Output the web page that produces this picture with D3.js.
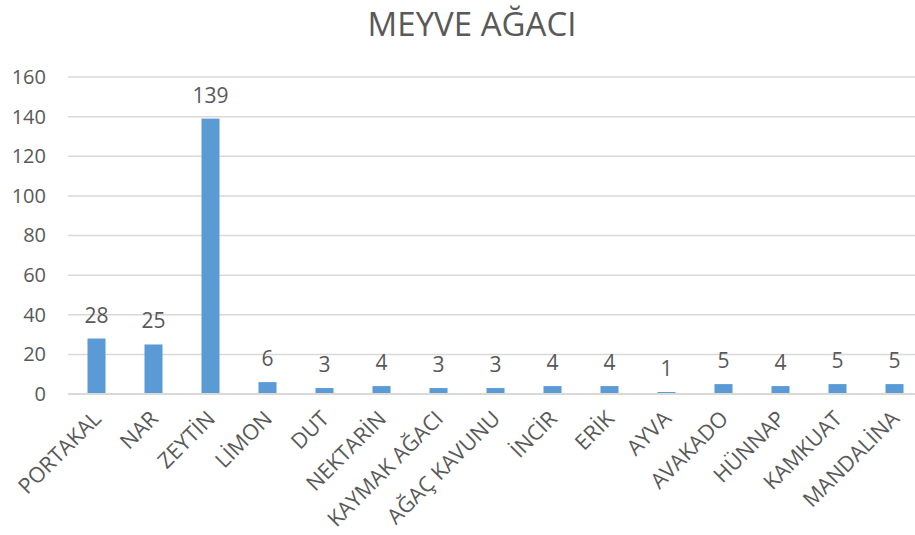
<!DOCTYPE html>
<html>
<head>
<meta charset="utf-8">
<script src="https://cdn.jsdelivr.net/npm/d3@7"></script>
<style>
  body { margin: 0; background: #fff; }
  text { font-family: "Open Sans", sans-serif; fill: #595959; }
</style>
</head>
<body>
<div id="chart"></div>
<script>
var width = 915;
var height = 535;

// data
var categories = ["PORTAKAL", "NAR", "ZEYTİN", "LİMON", "DUT", "NEKTARİN", "KAYMAK AĞACI",
    "AĞAÇ KAVUNU", "İNCİR", "ERİK", "AYVA", "AVAKADO", "HÜNNAP", "KAMKUAT", "MANDALİNA"];
var values = [28, 25, 139, 6, 3, 4, 3, 3, 4, 4, 1, 5, 4, 5, 5];
var yTicks = [0, 20, 40, 60, 80, 100, 120, 140, 160];
var chartTitle = "MEYVE AĞACI";

var x = d3.scaleBand()
    .domain(categories)
    .range([68, 923])
    .paddingInner(0.684)
    .paddingOuter(0.342);

var y = d3.scaleLinear()
    .domain([0, 160])
    .range([394, 77]);

var svg = d3.select('#chart')
    .append('svg')
    .attr('width', width)
    .attr('height', height);

// title
svg.append('text')
    .attr('x', 472)
    .attr('y', 36)
    .attr('text-anchor', 'middle')
    .style('font-size', '33px')
    .text(chartTitle);

// gridlines
svg.append('g')
    .selectAll('line')
    .data(yTicks)
    .join('line')
    .attr('x1', 68)
    .attr('x2', 923)
    .attr('y1', d => y(d))
    .attr('y2', d => y(d))
    .attr('stroke', '#d9d9d9')
    .attr('stroke-width', 1.5);

// y axis labels
var yAxis = svg.append('g')
    .attr('transform', 'translate(68,0)')
    .call(d3.axisLeft(y).tickValues(yTicks).tickSize(0).tickPadding(22));
yAxis.select('.domain').remove();
yAxis.selectAll('text')
    .style('font-size', '20px')
    .attr('fill', '#595959');

// bars
svg.append('g')
    .selectAll('rect')
    .data(values)
    .join('rect')
    .attr('x', (d, i) => x(categories[i]))
    .attr('width', x.bandwidth())
    .attr('y', d => y(d))
    .attr('height', d => y(0) - y(d))
    .attr('fill', '#5b9bd5');

// zero line
svg.append('line')
    .attr('x1', 68)
    .attr('x2', 923)
    .attr('y1', y(0))
    .attr('y2', y(0))
    .attr('stroke', '#d9d9d9')
    .attr('stroke-width', 2);

// value labels
svg.append('g')
    .selectAll('text')
    .data(values)
    .join('text')
    .attr('x', (d, i) => x(categories[i]) + x.bandwidth() / 2)
    .attr('y', d => y(d) - 16)
    .attr('text-anchor', 'middle')
    .style('font-size', '21px')
    .text(d => d);

// category labels
svg.append('g')
    .selectAll('text')
    .data(categories)
    .join('text')
    .attr('transform', d => 'translate(' + (x(d) + x.bandwidth() / 2 + 6) + ',420) rotate(-45)')
    .attr('text-anchor', 'end')
    .style('font-size', '21.5px')
    .text(d => d);
</script>
</body>
</html>
